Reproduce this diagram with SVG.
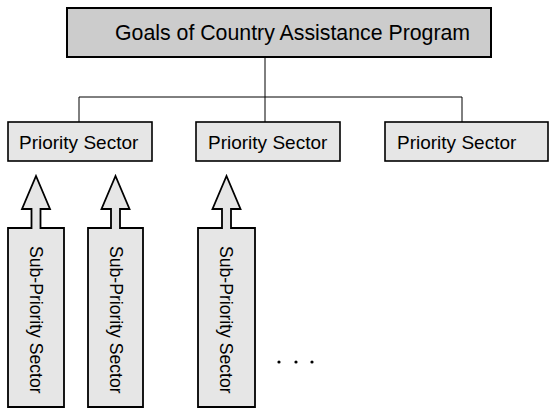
<svg xmlns="http://www.w3.org/2000/svg" width="550" height="411" viewBox="0 0 550 411">
<style>
  .goal { fill: #cccccc; stroke: #000; stroke-width: 2; }
  .ps { fill: #e6e6e6; stroke: #000; stroke-width: 1.6; }
  .sub { fill: #e6e6e6; stroke: #000; stroke-width: 1.8; stroke-linejoin: miter; }
  .conn { fill: none; stroke: #000; stroke-width: 1; }
  text { font-family: "Liberation Sans", Arial, sans-serif; fill: #000; }
  .t1 { font-size: 21.3px; }
  .t2 { font-size: 19px; }
  .t3 { font-size: 17.6px; }
</style>
<rect width="550" height="411" fill="#fff"/>
<g id="connectors">
  <path class="conn" d="M265,57 V122 M79,122 V97 H462 V122"/>
</g>
<g id="goals">
  <rect class="goal" x="67" y="8" width="424" height="49"/>
  <text class="t1" x="115" y="40">Goals of Country Assistance Program</text>
</g>
<g id="ps1">
  <rect class="ps" x="8" y="122" width="144" height="39"/>
  <text class="t2" x="19" y="149">Priority Sector</text>
</g>
<g id="ps2">
  <rect class="ps" x="196" y="122" width="144" height="39"/>
  <text class="t2" x="208" y="149">Priority Sector</text>
</g>
<g id="ps3">
  <rect class="ps" x="385" y="122" width="163" height="39"/>
  <text class="t2" x="397" y="149">Priority Sector</text>
</g>
<g id="sub1">
  <path class="sub" d="M8,228 H31.5 V209 H22 L36,176 L50,209 H40.5 V228 H64 V407 H8 Z"/>
  <text class="t3" transform="translate(30,246) rotate(90)">Sub-Priority Sector</text>
</g>
<g id="sub2">
  <path class="sub" d="M88,228 H111 V209 H101.5 L115.5,176 L129.5,209 H120 V228 H143 V407 H88 Z"/>
  <text class="t3" transform="translate(110,246) rotate(90)">Sub-Priority Sector</text>
</g>
<g id="sub3">
  <path class="sub" d="M198,228 H222 V209 H212.5 L226.5,176 L240.5,209 H231 V228 H255 V407 H198 Z"/>
  <text class="t3" transform="translate(220,246) rotate(90)">Sub-Priority Sector</text>
</g>
<g id="ellipsis">
  <circle cx="279" cy="362" r="1.6"/>
  <circle cx="296" cy="362" r="1.6"/>
  <circle cx="312" cy="362" r="1.6"/>
</g>
</svg>
